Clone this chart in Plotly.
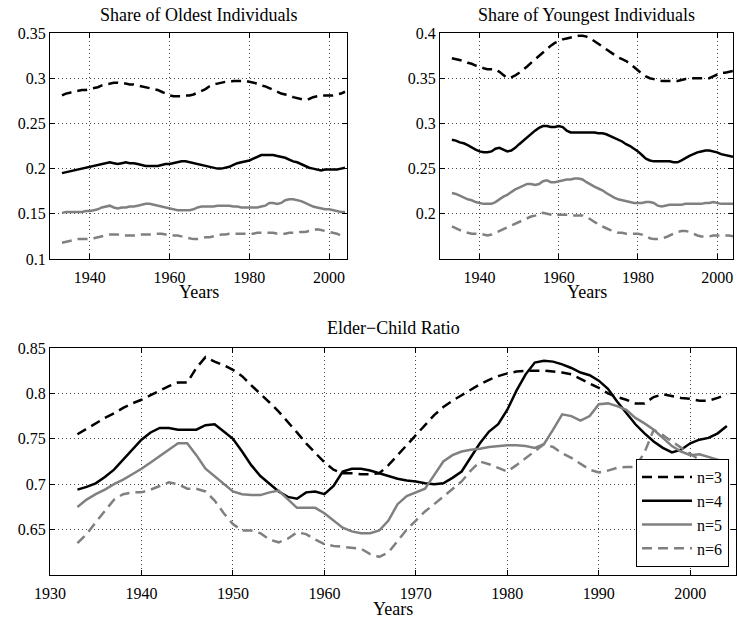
import plotly.graph_objects as go

years = list(range(1933, 2005))

old_n3 = [0.281, 0.283, 0.284, 0.285, 0.286, 0.287, 0.287, 0.288, 0.289, 0.290,
          0.292, 0.293, 0.294, 0.295, 0.295, 0.294, 0.294, 0.293, 0.293, 0.292,
          0.291, 0.290, 0.289, 0.288, 0.287, 0.285, 0.283, 0.281, 0.280, 0.280,
          0.280, 0.281, 0.281, 0.282, 0.284, 0.286, 0.288, 0.291, 0.293, 0.294,
          0.295, 0.296, 0.296, 0.297, 0.297, 0.297, 0.297, 0.296, 0.295, 0.294,
          0.292, 0.291, 0.289, 0.287, 0.285, 0.283, 0.282, 0.281, 0.279, 0.278,
          0.277, 0.276, 0.277, 0.279, 0.280, 0.281, 0.281, 0.281, 0.281, 0.282,
          0.283, 0.285]
old_n4 = [0.195, 0.196, 0.197, 0.198, 0.199, 0.200, 0.201, 0.202, 0.203, 0.204,
          0.205, 0.206, 0.207, 0.206, 0.205, 0.206, 0.207, 0.206, 0.206, 0.205,
          0.204, 0.203, 0.203, 0.203, 0.203, 0.204, 0.205, 0.205, 0.206, 0.207,
          0.208, 0.208, 0.207, 0.206, 0.205, 0.204, 0.203, 0.202, 0.201, 0.200,
          0.200, 0.201, 0.202, 0.204, 0.206, 0.207, 0.208, 0.209, 0.211, 0.213,
          0.215, 0.215, 0.215, 0.215, 0.214, 0.213, 0.212, 0.210, 0.208, 0.207,
          0.205, 0.203, 0.201, 0.200, 0.199, 0.198, 0.199, 0.199, 0.199, 0.199,
          0.200, 0.201]
old_n5 = [0.151, 0.152, 0.152, 0.152, 0.152, 0.152, 0.153, 0.153, 0.154, 0.155,
          0.157, 0.158, 0.159, 0.157, 0.156, 0.157, 0.157, 0.158, 0.158, 0.159,
          0.160, 0.161, 0.161, 0.160, 0.159, 0.158, 0.157, 0.156, 0.155, 0.154,
          0.154, 0.154, 0.154, 0.155, 0.157, 0.158, 0.158, 0.158, 0.158, 0.159,
          0.159, 0.159, 0.159, 0.158, 0.158, 0.157, 0.157, 0.157, 0.157, 0.157,
          0.158, 0.159, 0.162, 0.162, 0.161, 0.162, 0.165, 0.166, 0.166, 0.165,
          0.164, 0.162, 0.160, 0.158, 0.157, 0.156, 0.155, 0.155, 0.154, 0.153,
          0.152, 0.152]
old_n6 = [0.118, 0.119, 0.120, 0.121, 0.122, 0.122, 0.122, 0.122, 0.123, 0.124,
          0.125, 0.126, 0.127, 0.127, 0.127, 0.126, 0.126, 0.126, 0.126, 0.126,
          0.127, 0.127, 0.127, 0.128, 0.128, 0.128, 0.127, 0.127, 0.126, 0.126,
          0.125, 0.124, 0.123, 0.122, 0.122, 0.123, 0.124, 0.124, 0.125, 0.126,
          0.127, 0.127, 0.128, 0.128, 0.128, 0.128, 0.128, 0.128, 0.128, 0.129,
          0.129, 0.129, 0.129, 0.129, 0.128, 0.128, 0.128, 0.129, 0.129, 0.129,
          0.130, 0.130, 0.131, 0.132, 0.133, 0.132, 0.131, 0.130, 0.129, 0.128,
          0.126, 0.125]

young_n3 = [0.372, 0.371, 0.370, 0.369, 0.367, 0.366, 0.364, 0.363, 0.361, 0.360,
            0.360, 0.360, 0.357, 0.353, 0.350, 0.351, 0.353, 0.356, 0.359, 0.363,
            0.367, 0.371, 0.375, 0.379, 0.383, 0.386, 0.389, 0.391, 0.393, 0.394,
            0.395, 0.396, 0.397, 0.397, 0.396, 0.394, 0.391, 0.388, 0.385, 0.382,
            0.379, 0.376, 0.373, 0.371, 0.369, 0.366, 0.362, 0.358, 0.355, 0.352,
            0.350, 0.349, 0.348, 0.347, 0.347, 0.347, 0.347, 0.347, 0.348, 0.349,
            0.349, 0.350, 0.350, 0.350, 0.350, 0.350, 0.352, 0.354, 0.356, 0.356,
            0.357, 0.358]
young_n4 = [0.282, 0.281, 0.279, 0.278, 0.276, 0.273, 0.271, 0.269, 0.268, 0.268,
            0.269, 0.272, 0.273, 0.271, 0.269, 0.270, 0.273, 0.277, 0.281, 0.285,
            0.289, 0.292, 0.295, 0.297, 0.297, 0.296, 0.296, 0.297, 0.296, 0.292,
            0.290, 0.290, 0.290, 0.290, 0.290, 0.290, 0.290, 0.289, 0.289, 0.288,
            0.286, 0.284, 0.282, 0.280, 0.277, 0.275, 0.272, 0.269, 0.265, 0.261,
            0.259, 0.258, 0.258, 0.258, 0.258, 0.258, 0.257, 0.257, 0.259, 0.262,
            0.264, 0.266, 0.268, 0.269, 0.270, 0.270, 0.269, 0.268, 0.266, 0.265,
            0.264, 0.263]
young_n5 = [0.223, 0.222, 0.220, 0.218, 0.216, 0.215, 0.213, 0.212, 0.211, 0.211,
            0.211, 0.213, 0.216, 0.219, 0.221, 0.224, 0.227, 0.229, 0.231, 0.233,
            0.233, 0.232, 0.233, 0.236, 0.237, 0.235, 0.235, 0.236, 0.237, 0.238,
            0.238, 0.239, 0.239, 0.238, 0.235, 0.232, 0.230, 0.228, 0.226, 0.223,
            0.220, 0.218, 0.216, 0.215, 0.214, 0.213, 0.212, 0.212, 0.212, 0.213,
            0.213, 0.212, 0.209, 0.208, 0.209, 0.210, 0.210, 0.210, 0.210, 0.211,
            0.211, 0.211, 0.211, 0.211, 0.212, 0.212, 0.213, 0.212, 0.211, 0.211,
            0.211, 0.211]
young_n6 = [0.186, 0.184, 0.182, 0.180, 0.179, 0.178, 0.178, 0.177, 0.177, 0.176,
            0.177, 0.179, 0.181, 0.183, 0.185, 0.187, 0.189, 0.191, 0.193, 0.195,
            0.197, 0.198, 0.200, 0.201, 0.200, 0.199, 0.198, 0.199, 0.199, 0.199,
            0.199, 0.198, 0.198, 0.198, 0.196, 0.194, 0.191, 0.188, 0.186, 0.184,
            0.182, 0.181, 0.179, 0.179, 0.178, 0.178, 0.178, 0.178, 0.177, 0.175,
            0.173, 0.172, 0.172, 0.173, 0.174, 0.176, 0.178, 0.180, 0.181, 0.181,
            0.180, 0.178, 0.176, 0.175, 0.175, 0.175, 0.176, 0.176, 0.176, 0.176,
            0.176, 0.175]

ratio_n3 = [0.755, 0.761, 0.767, 0.773, 0.778, 0.784, 0.789, 0.793, 0.798, 0.803,
            0.808, 0.812, 0.812, 0.828, 0.840, 0.835, 0.831, 0.826, 0.819, 0.809,
            0.800, 0.790, 0.780, 0.769, 0.757, 0.745, 0.734, 0.724, 0.716, 0.712,
            0.712, 0.711, 0.711, 0.712, 0.721, 0.732, 0.743, 0.754, 0.765, 0.776,
            0.785, 0.792, 0.798, 0.804, 0.810, 0.815, 0.819, 0.822, 0.824, 0.825,
            0.825, 0.825, 0.824, 0.823, 0.821, 0.816, 0.811, 0.806, 0.800, 0.796,
            0.793, 0.789, 0.789, 0.796, 0.799, 0.797, 0.795, 0.794, 0.792, 0.792,
            0.795, 0.799]
ratio_n4 = [0.694, 0.697, 0.701, 0.708, 0.716, 0.727, 0.738, 0.749, 0.757, 0.762,
            0.762, 0.760, 0.760, 0.760, 0.765, 0.766, 0.758, 0.750, 0.736, 0.721,
            0.709, 0.700, 0.692, 0.686, 0.684, 0.691, 0.692, 0.689, 0.698, 0.714,
            0.717, 0.717, 0.715, 0.712, 0.709, 0.706, 0.704, 0.703, 0.701, 0.700,
            0.701, 0.707, 0.714, 0.730, 0.745, 0.758, 0.766, 0.782, 0.803, 0.821,
            0.834, 0.836, 0.835, 0.832, 0.828, 0.823, 0.820, 0.814, 0.805, 0.791,
            0.778, 0.766, 0.756, 0.747, 0.740, 0.735, 0.738, 0.745, 0.749, 0.751,
            0.756, 0.764]
ratio_n5 = [0.675, 0.683, 0.689, 0.694, 0.700, 0.705, 0.711, 0.717, 0.724, 0.731,
            0.738, 0.745, 0.745, 0.732, 0.717, 0.709, 0.700, 0.692, 0.689, 0.688,
            0.688, 0.691, 0.693, 0.684, 0.674, 0.674, 0.674, 0.668, 0.660, 0.652,
            0.648, 0.646, 0.646, 0.649, 0.660, 0.678, 0.687, 0.691, 0.695, 0.710,
            0.725, 0.732, 0.736, 0.738, 0.739, 0.741, 0.742, 0.743, 0.743, 0.742,
            0.740, 0.744, 0.760, 0.777, 0.775, 0.770, 0.775, 0.788, 0.789, 0.786,
            0.782, 0.773, 0.767, 0.760, 0.751, 0.742, 0.736, 0.732, 0.733, 0.730,
            0.727, 0.724]
ratio_n6 = [0.635, 0.645, 0.658, 0.671, 0.683, 0.689, 0.691, 0.691, 0.694, 0.698,
            0.702, 0.700, 0.695, 0.695, 0.692, 0.682, 0.668, 0.656, 0.649, 0.649,
            0.646, 0.639, 0.636, 0.640, 0.647, 0.645, 0.639, 0.634, 0.632, 0.631,
            0.630, 0.629, 0.623, 0.620, 0.625, 0.638, 0.650, 0.660, 0.670, 0.678,
            0.686, 0.695, 0.703, 0.715, 0.725, 0.722, 0.718, 0.714, 0.721, 0.729,
            0.737, 0.744, 0.741, 0.734, 0.729, 0.722, 0.716, 0.713, 0.715, 0.718,
            0.719, 0.719, 0.735, 0.760, 0.754, 0.747, 0.740, 0.733, 0.726, 0.720,
            0.718, 0.716]

series_names = ["n=3", "n=4", "n=5", "n=6"]

top_x_ticks = [1940, 1960, 1980, 2000]
bottom_x_ticks = [1930, 1940, 1950, 1960, 1970, 1980, 1990, 2000]
old_y_ticks = [0.1, 0.15, 0.2, 0.25, 0.3, 0.35]
old_y_labels = ["0.1", "0.15", "0.2", "0.25", "0.3", "0.35"]
young_y_ticks = [0.2, 0.25, 0.3, 0.35, 0.4]
young_y_labels = ["0.2", "0.25", "0.3", "0.35", "0.4"]
ratio_y_ticks = [0.65, 0.7, 0.75, 0.8, 0.85]
ratio_y_labels = ["0.65", "0.7", "0.75", "0.8", "0.85"]

W, H = 737, 621
FONT = "Liberation Serif"
GRAY = "#808080"
DASH = "10px,6px"
styles = [
    dict(color="black", dash=DASH),
    dict(color="black", dash="solid"),
    dict(color=GRAY, dash="solid"),
    dict(color=GRAY, dash=DASH),
]

fig = go.Figure()

panels = [
    ("x", "y", [old_n3, old_n4, old_n5, old_n6], False),
    ("x2", "y2", [young_n3, young_n4, young_n5, young_n6], False),
    ("x3", "y3", [ratio_n3, ratio_n4, ratio_n5, ratio_n6], True),
]
for xa, ya, data, show in panels:
    for name, vals, st in zip(series_names, data, styles):
        fig.add_trace(go.Scatter(
            x=years, y=vals, mode="lines", name=name, showlegend=show,
            xaxis=xa, yaxis=ya,
            line=dict(color=st["color"], dash=st["dash"], width=2.5),
        ))


def px_x(p):
    return p / W


def px_y(p):
    return 1 - p / H


axis_common = dict(
    showline=True, linecolor="black", linewidth=1, mirror="ticks",
    ticks="inside", ticklen=5, tickcolor="black", tickwidth=1,
    showgrid=True, gridcolor="#444444", gridwidth=1, griddash="1px,3px",
    zeroline=False, automargin=False,
    tickfont=dict(family=FONT, size=16, color="black"),
)
x_common = dict(axis_common, ticklabelstandoff=4)

fig.update_layout(
    template="none",
    width=W, height=H, autosize=False,
    margin=dict(l=0, r=0, t=0, b=0, pad=0),
    paper_bgcolor="white", plot_bgcolor="white",
    font=dict(family=FONT, size=16, color="black"),
    xaxis=dict(x_common, domain=[px_x(50), px_x(347)], range=[1930, 2004.5],
               tickvals=top_x_ticks, anchor="y"),
    yaxis=dict(axis_common, domain=[px_y(259), px_y(33)], range=[0.1, 0.35],
               tickvals=old_y_ticks, ticktext=old_y_labels, anchor="x"),
    xaxis2=dict(x_common, domain=[px_x(440), px_x(733)], range=[1930, 2004],
                tickvals=top_x_ticks, anchor="y2"),
    yaxis2=dict(axis_common, domain=[px_y(259), px_y(33)], range=[0.15, 0.4],
                tickvals=young_y_ticks, ticktext=young_y_labels, anchor="x2"),
    xaxis3=dict(x_common, domain=[px_x(50), px_x(736)], range=[1930, 2005],
                tickvals=bottom_x_ticks, anchor="y3"),
    yaxis3=dict(axis_common, domain=[px_y(575), px_y(348)], range=[0.6, 0.85],
                tickvals=ratio_y_ticks, ticktext=ratio_y_labels, anchor="x3"),
    legend=dict(
        x=px_x(729), xanchor="right", y=px_y(567), yanchor="bottom",
        bgcolor="white", bordercolor="black", borderwidth=1,
        font=dict(family=FONT, size=16, color="black"),
        tracegroupgap=0, itemwidth=50,
    ),
    showlegend=True,
)

annots = [
    ("Share of Oldest Individuals", 198.5, 15),
    ("Share of Youngest Individuals", 586.5, 15),
    ("Years", 198.5, 292),
    ("Years", 586.5, 292),
    ("Elder\u2212Child Ratio", 393, 328),
    ("Years", 393, 609),
]
for text, cx, cy in annots:
    fig.add_annotation(
        text=text, x=px_x(cx), y=px_y(cy), xref="paper", yref="paper",
        xanchor="center", yanchor="middle", showarrow=False,
        font=dict(family=FONT, size=18, color="black"),
    )

fig.write_html(
    "out.html",
    config={"displayModeBar": False},
    post_script="document.body.style.margin='0';document.body.style.padding='0';",
)
